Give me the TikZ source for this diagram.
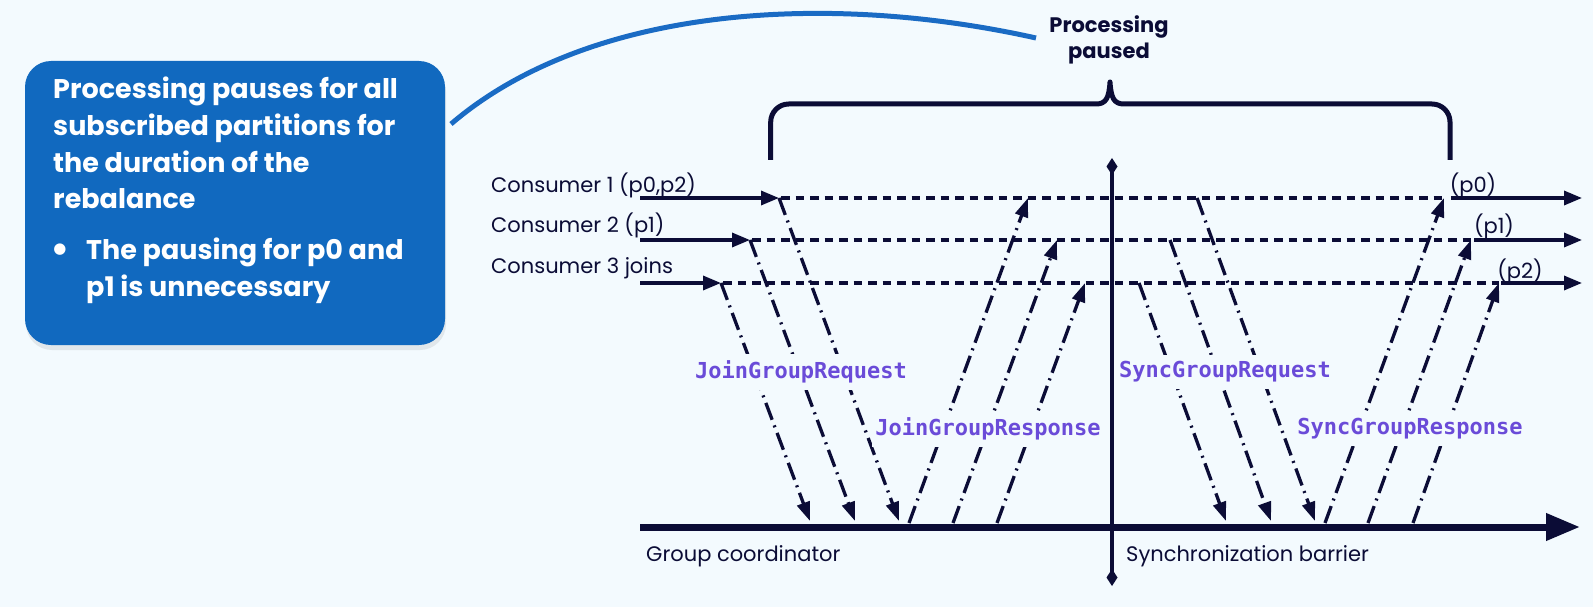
\documentclass[tikz,border=0pt]{standalone}
\usepackage{fontspec}
\setmainfont{Poppins}
\newfontfamily\monof{DejaVu Sans Mono}
\newfontfamily\symf{DejaVu Sans}
\usetikzlibrary{arrows.meta,shadows}
\definecolor{bg}{HTML}{F3FAFE}
\definecolor{ink}{HTML}{0B0C36}
\definecolor{boxblue}{HTML}{1169BF}
\definecolor{curveblue}{HTML}{1A6BC4}
\definecolor{purp}{HTML}{6A4BD8}
\tikzset{
  flow/.style={ink, line width=3.3pt},
  solidarr/.style={flow, -{Triangle[length=18pt,width=14pt]}},
  dashln/.style={flow, dash pattern=on 8.5pt off 6pt},
  ddarr/.style={flow, dash pattern=on 18pt off 6pt on 2pt off 6pt, -{Triangle[length=19pt,width=13pt]}},
  msg/.style={font=\monof\bfseries\fontsize{22}{24}\selectfont, text=purp, fill=bg, inner xsep=3pt, inner ysep=7pt},
  lbl/.style={font=\fontsize{21}{24}\selectfont, text=ink, inner sep=0pt},
  boxtxt/.style={font=\bfseries\fontsize{27}{36.6}\selectfont, text=white, inner sep=0pt, align=left},
}
\begin{document}
\begin{tikzpicture}[x=1pt,y=-1pt]
\fill[bg] (0,0) rectangle (1593,607);
\useasboundingbox (0,0) rectangle (1593,607);
% callout box
\fill[boxblue, rounded corners=26pt, drop shadow={opacity=0.15, shadow xshift=1pt, shadow yshift=-5pt}] (25,61) rectangle (445,345);
\node[boxtxt, anchor=north west] (bt) at (53,77) {Processing pauses for all\\subscribed partitions for\\the duration of the\\rebalance};
\node[text=white, font=\symf\fontsize{15}{18}\selectfont, inner sep=0pt] (bull) at (60,250) {●};
\node[boxtxt, anchor=north west] (bi) at (86,238) {The pausing for p0 and\\p1 is unnecessary};
% blue curve
\coordinate (cv0) at (451,124);
\coordinate (cv1) at (1036,38);
\draw[curveblue, line width=5pt] (cv0) .. controls (590,5) and (830,-8) .. (cv1);
\node[font=\bfseries\fontsize{21}{26}\selectfont, text=ink, align=center] (pp) at (1109,40) {Processing\\paused};
% brace
\draw[ink, line width=5pt, line join=round] (770.7,160) -- (770.7,122) arc[start angle=180, end angle=270, radius=18] -- (1096,104) .. controls (1106,104) and (1109,98) .. (1110,82) .. controls (1111,98) and (1114,104) .. (1124,104) -- (1432,104) arc[start angle=-90, end angle=0, radius=18] -- (1450,160);
% consumer lines
\coordinate (c1in) at (640,198); \coordinate (c1p) at (779,198); \coordinate (c1q) at (1444,198); \coordinate (c1o) at (1582,198);
\coordinate (c2in) at (640,240); \coordinate (c2p) at (750,240); \coordinate (c2q) at (1471,240); \coordinate (c2o) at (1582,240);
\coordinate (c3in) at (640,283); \coordinate (c3p) at (721,283); \coordinate (c3q) at (1499,283); \coordinate (c3o) at (1582,283);
\node[lbl, anchor=west] (l1) at (491,185) {Consumer 1 (p0,p2)};
\node[lbl, anchor=west] (l2) at (491,225) {Consumer 2 (p1)};
\node[lbl, anchor=west] (l3) at (491,268) {Consumer 3 joins};
\draw[solidarr] (c1in) -- (c1p);
\draw[solidarr] (c2in) -- (c2p);
\draw[solidarr] (c3in) -- (c3p);
\draw[dashln] ([xshift=2pt]c1p) -- (c1q);
\draw[dashln] ([xshift=2pt]c2p) -- (c2q);
\draw[dashln] ([xshift=2pt]c3p) -- (c3q);
\draw[solidarr] ([xshift=7pt]c1q) -- (c1o);
\draw[solidarr] ([xshift=3pt]c2q) -- (c2o);
\draw[solidarr] ([xshift=2pt]c3q) -- (c3o);
\node[lbl, anchor=center] (o1) at (1473,185) {(p0)};
\node[lbl, anchor=center] (o2) at (1494,226) {(p1)};
\node[lbl, anchor=center] (o3) at (1520,271) {(p2)};
% timeline and barrier
\coordinate (t0) at (640,527); \coordinate (t1) at (1580,527);
\draw[ink, line width=7pt, -{Triangle[length=34pt,width=26pt]}] (t0) -- (t1);
\coordinate (b0) at (1112,158); \coordinate (b1) at (1112,586);
\draw[flow, {Diamond[length=17pt,width=11pt]}-{Diamond[length=17pt,width=11pt]}] (b0) -- (b1);
\node[lbl, anchor=west] (gc) at (646,556) {Group coordinator};
\node[lbl, anchor=west] (sb) at (1126,556) {Synchronization barrier};
% join requests
\coordinate (jq1) at (810,521); \coordinate (jq2) at (855,521); \coordinate (jq3) at (899,521);
\draw[ddarr] (c3p) -- (jq1);
\draw[ddarr] (c2p) -- (jq2);
\draw[ddarr] (c1p) -- (jq3);
% join responses
\coordinate (jr1) at (909,523); \coordinate (jr2) at (953,523); \coordinate (jr3) at (997,523);
\coordinate (ja1) at (1028,198); \coordinate (ja2) at (1057,240); \coordinate (ja3) at (1085,283);
\draw[ddarr] (jr1) -- (ja1);
\draw[ddarr] (jr2) -- (ja2);
\draw[ddarr] (jr3) -- (ja3);
% sync requests
\coordinate (ss1) at (1197,198); \coordinate (ss2) at (1170,240); \coordinate (ss3) at (1139,283);
\coordinate (sq1) at (1315,521); \coordinate (sq2) at (1271,521); \coordinate (sq3) at (1226,521);
\draw[ddarr] (ss1) -- (sq1);
\draw[ddarr] (ss2) -- (sq2);
\draw[ddarr] (ss3) -- (sq3);
% sync responses
\coordinate (sr1) at (1325,523); \coordinate (sr2) at (1368,523); \coordinate (sr3) at (1413,523);
\draw[ddarr] (sr1) -- (c1q);
\draw[ddarr] (sr2) -- (c2q);
\draw[ddarr] (sr3) -- (c3q);
% message labels
\node[msg] (m1) at (801,372) {JoinGroupRequest};
\node[msg] (m2) at (988,429) {JoinGroupResponse};
\node[msg] (m3) at (1225,372) {SyncGroupRequest};
\node[msg] (m4) at (1410,429) {SyncGroupResponse};
\end{tikzpicture}
\end{document}
